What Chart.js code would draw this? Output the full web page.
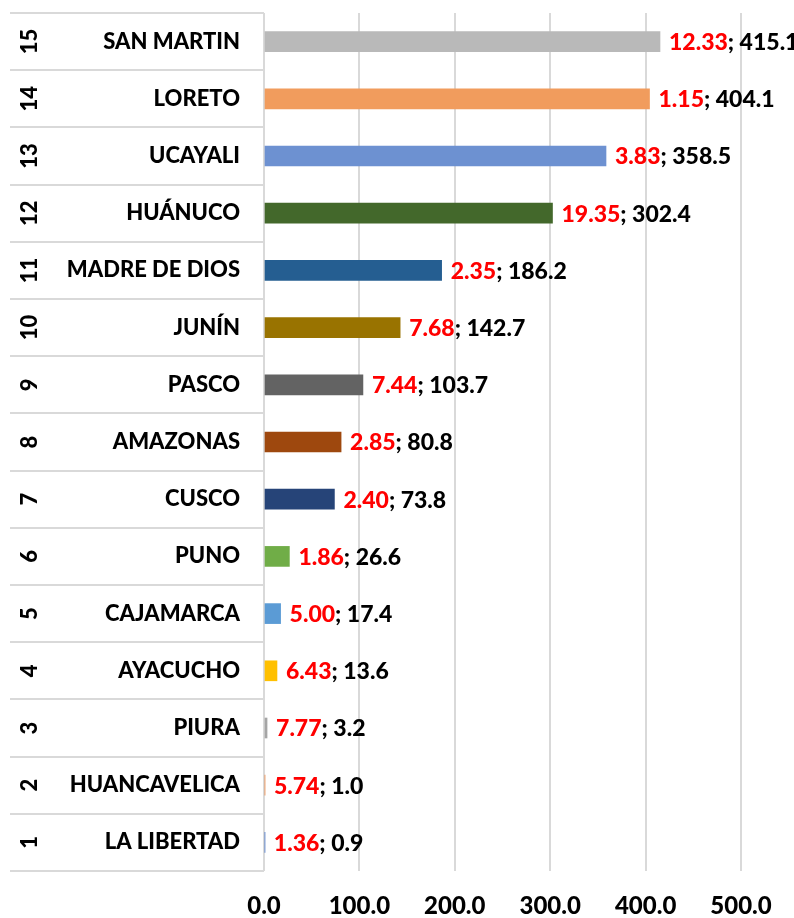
<!DOCTYPE html>
<html>
<head>
<meta charset="utf-8">
<script src="https://cdn.jsdelivr.net/npm/chart.js@4.4.1/dist/chart.umd.min.js"></script>
<style>
  html, body { margin: 0; padding: 0; background: #ffffff; }
  #wrap { width: 794px; height: 918px; }
</style>
</head>
<body>
<div id="wrap"><canvas id="grafico" width="794" height="918"></canvas></div>
<script>
// datos (de arriba hacia abajo)
const rangos = ['15', '14', '13', '12', '11', '10', '9', '8', '7', '6', '5', '4', '3', '2', '1'];
const regiones = ['SAN MARTIN', 'LORETO', 'UCAYALI', 'HUÁNUCO', 'MADRE DE DIOS', 'JUNÍN', 'PASCO',
  'AMAZONAS', 'CUSCO', 'PUNO', 'CAJAMARCA', 'AYACUCHO', 'PIURA', 'HUANCAVELICA', 'LA LIBERTAD'];
const valores = [415.1, 404.1, 358.5, 302.4, 186.2, 142.7, 103.7, 80.8, 73.8, 26.6, 17.4, 13.6, 3.2, 1.0, 0.9];
const porcentajes = ['12.33', '1.15', '3.83', '19.35', '2.35', '7.68', '7.44', '2.85', '2.40', '1.86',
  '5.00', '6.43', '7.77', '5.74', '1.36'];
const colores = ['#B9B9B9', '#F19C5D', '#6D91D1', '#43682B', '#255E91', '#997300', '#636363',
  '#9E480E', '#264478', '#70AD47', '#5B9BD5', '#FFC000', '#A5A5A5', '#ED7D31', '#4472C4'];
const ticksX = [0, 100, 200, 300, 400, 500];

const fuente = 'Lato, "Open Sans", sans-serif';

// tabla de la izquierda: lineas y numeros de rango
const tablaPlugin = {
  id: 'tabla',
  afterDraw(chart) {
    const ctx = chart.ctx;
    const area = chart.chartArea;
    const y = chart.scales.y;
    const paso = y.getPixelForValue(1) - y.getPixelForValue(0);
    ctx.save();
    ctx.strokeStyle = '#D9D9D9';
    ctx.lineWidth = 2;
    for (let i = 0; i <= regiones.length; i++) {
      const yy = Math.round(y.getPixelForValue(i) - paso / 2);
      ctx.beginPath();
      ctx.moveTo(10, yy);
      ctx.lineTo(area.left, yy);
      ctx.stroke();
    }
    ctx.fillStyle = '#000000';
    ctx.font = '900 22px ' + fuente;
    ctx.textAlign = 'center';
    ctx.textBaseline = 'middle';
    rangos.forEach(function(r, i) {
      ctx.save();
      ctx.translate(30, y.getPixelForValue(i));
      ctx.rotate(-Math.PI / 2);
      ctx.fillText(r, 0, 0);
      ctx.restore();
    });
    ctx.restore();
  }
};

// etiquetas de datos: porcentaje en rojo ; valor en negro
const etiquetasPlugin = {
  id: 'etiquetas',
  afterDatasetsDraw(chart) {
    const ctx = chart.ctx;
    const meta = chart.getDatasetMeta(0);
    ctx.save();
    ctx.font = '900 23px ' + fuente;
    ctx.textAlign = 'left';
    ctx.textBaseline = 'middle';
    meta.data.forEach(function(barra, i) {
      let x = barra.x + 9;
      const rojo = porcentajes[i];
      const negro = '; ' + valores[i].toFixed(1);
      ctx.fillStyle = '#FF0000';
      ctx.fillText(rojo, x, barra.y + 1);
      x += ctx.measureText(rojo).width;
      ctx.fillStyle = '#000000';
      ctx.fillText(negro, x, barra.y + 1);
    });
    ctx.restore();
  }
};

const config = {
  type: 'bar',
  data: {
    labels: regiones,
    datasets: [{
      data: valores,
      backgroundColor: colores,
      borderWidth: 0,
      barThickness: 20
    }]
  },
  options: {
    indexAxis: 'y',
    responsive: false,
    devicePixelRatio: 1,
    animation: false,
    layout: { padding: { top: 13, right: 53, bottom: 0, left: 0 } },
    plugins: {
      legend: { display: false },
      tooltip: { enabled: false }
    },
    scales: {
      x: {
        min: 0,
        max: 500,
        afterBuildTicks: function(scale) {
          scale.ticks = ticksX.map(function(v) { return { value: v }; });
        },
        grid: { color: '#D9D9D9', lineWidth: 2, drawTicks: false },
        border: { display: false },
        ticks: {
          padding: 21,
          color: '#000000',
          font: { family: fuente, size: 24, weight: '900' },
          callback: function(v) { return Number(v).toFixed(1); }
        },
        afterFit: function(scale) {
          scale.height = 47;
          scale.paddingLeft = 0;
          scale.paddingRight = 0;
        }
      },
      y: {
        grid: { display: false, drawTicks: false },
        border: { display: false },
        ticks: {
          padding: 24,
          color: '#000000',
          font: { family: fuente, size: 22, weight: '900' }
        },
        afterFit: function(scale) {
          scale.width = 264;
          scale.paddingTop = 0;
          scale.paddingBottom = 0;
        }
      }
    }
  },
  plugins: [tablaPlugin, etiquetasPlugin]
};

var ctx = document.getElementById('grafico');
var grafico = new Chart(ctx, config);
</script>
</body>
</html>
